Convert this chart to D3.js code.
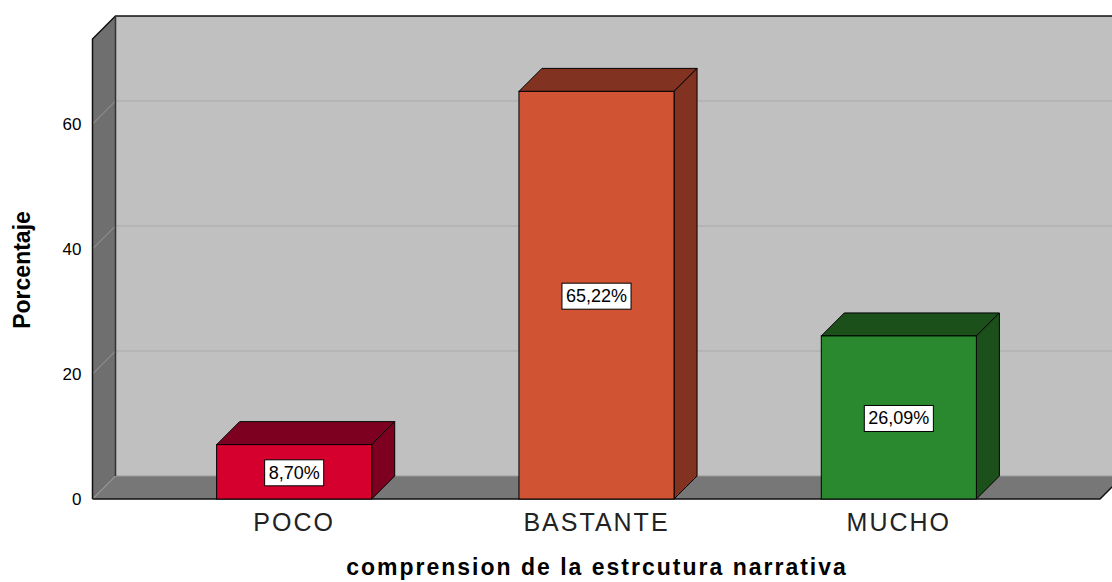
<!DOCTYPE html>
<html>
<head>
<meta charset="utf-8">
<script src="https://cdn.jsdelivr.net/npm/d3@7"></script>
<style>
  body { margin: 0; background: #fff; }
  text { font-family: Arial, "Liberation Sans", sans-serif; }
</style>
</head>
<body>
<svg id="chart" width="1112" height="582"></svg>
<script>
var categories = ["POCO", "BASTANTE", "MUCHO"];
var values = [8.70, 65.22, 26.09];
var valueLabels = ["8,70%", "65,22%", "26,09%"];
var tickValues = [0, 20, 40, 60];
var frontColors = ["#d6002e", "#d05333", "#2a892e"];
var darkColors = ["#7d0020", "#823220", "#1b501b"];

var svg = d3.select("#chart");
var depth = 23; // 3d offset, same in x and y
var left = 92.5, right = 1100;

var y = d3.scaleLinear().domain([0, 73.6]).range([499, 39]);
var x = d3.scaleBand().domain(categories).range([143, 1050])
  .paddingInner(0.487).paddingOuter(0.2435);

var y0 = y(0), yTop = y.range()[1];

function pts(a) { return a.map(function (p) { return p.join(","); }).join(" "); }

// back wall
svg.append("polygon")
  .attr("points", pts([[left + depth, yTop - depth], [right + depth, yTop - depth],
    [right + depth, y0 - depth], [left + depth, y0 - depth]]))
  .style("fill", "#c0c0c0");

// left wall
svg.append("polygon")
  .attr("points", pts([[left, y0], [left, yTop], [left + depth, yTop - depth], [left + depth, y0 - depth]]))
  .style("fill", "#6f6f6f");

// grid lines
tickValues.filter(function (d) { return d > 0; }).forEach(function (t) {
  svg.append("line")
    .attr("x1", left + depth).attr("x2", right + depth)
    .attr("y1", y(t) - depth).attr("y2", y(t) - depth)
    .style("stroke", "#a9a9a9").style("stroke-width", 1);
  svg.append("line")
    .attr("x1", left).attr("x2", left + depth)
    .attr("y1", y(t)).attr("y2", y(t) - depth)
    .style("stroke", "#9c9c9c").style("stroke-width", 1);
});

// floor
svg.append("polygon")
  .attr("points", pts([[left, y0], [right, y0], [right + depth, y0 - depth], [left + depth, y0 - depth]]))
  .style("fill", "#777777");
svg.append("line")
  .attr("x1", left + depth).attr("x2", right + depth)
  .attr("y1", y0 - depth).attr("y2", y0 - depth)
  .style("stroke", "#9a9a9a");
svg.append("line")
  .attr("x1", left).attr("x2", left + depth)
  .attr("y1", y0).attr("y2", y0 - depth)
  .style("stroke", "#9c9c9c");

// outlines
svg.append("path")
  .attr("d", "M" + left + "," + y0 + "L" + left + "," + yTop + "L" + (left + depth) + "," + (yTop - depth) +
    "L" + (right + depth) + "," + (yTop - depth))
  .style("fill", "none").style("stroke", "#111").style("stroke-width", 1.5);
svg.append("line")
  .attr("x1", left + depth).attr("x2", left + depth)
  .attr("y1", yTop - depth).attr("y2", y0 - depth)
  .style("stroke", "#333").style("stroke-width", 1.5);
svg.append("path")
  .attr("d", "M" + left + "," + y0 + "L" + right + "," + y0 + "L" + (right + depth) + "," + (y0 - depth))
  .style("fill", "none").style("stroke", "#111").style("stroke-width", 1.5);

// bars
var bars = svg.selectAll(".bar").data(values).enter().append("g").attr("class", "bar");
bars.each(function (v, i) {
  var g = d3.select(this);
  var bx = x(categories[i]), bw = x.bandwidth(), by = y(v);
  g.append("polygon")
    .attr("points", pts([[bx, by], [bx + depth, by - depth], [bx + bw + depth, by - depth], [bx + bw, by]]))
    .style("fill", darkColors[i]).style("stroke", "#000").style("stroke-width", 1);
  g.append("polygon")
    .attr("points", pts([[bx + bw, by], [bx + bw + depth, by - depth], [bx + bw + depth, y0 - depth], [bx + bw, y0]]))
    .style("fill", darkColors[i]).style("stroke", "#000").style("stroke-width", 1);
  g.append("rect")
    .attr("x", bx).attr("y", by).attr("width", bw).attr("height", y0 - by)
    .style("fill", frontColors[i]).style("stroke", "#000").style("stroke-width", 1);

  var cx = bx + bw / 2, cy = (by + y0) / 2;
  var t = g.append("text")
    .attr("x", cx).attr("y", cy + 1)
    .attr("text-anchor", "middle").attr("dominant-baseline", "central")
    .style("font-size", "18px").style("fill", "#000")
    .text(valueLabels[i]);
  var bb = t.node().getBBox();
  g.insert("rect", "text")
    .attr("x", bb.x - 4).attr("y", cy - 12).attr("width", bb.width + 8).attr("height", 26)
    .style("fill", "#fff").style("stroke", "#000").style("stroke-width", 1);
});

// y axis
var yAxis = svg.append("g")
  .attr("transform", "translate(" + left + ",0)")
  .call(d3.axisLeft(y).tickValues(tickValues).tickSize(0).tickPadding(11));
yAxis.select(".domain").remove();
yAxis.selectAll("text").style("font-size", "17px").style("font-family", "Arial, sans-serif").style("fill", "#000");

// x axis labels
var xAxis = svg.append("g")
  .attr("transform", "translate(0," + y0 + ")")
  .call(d3.axisBottom(x).tickSize(0).tickPadding(14));
xAxis.select(".domain").remove();
xAxis.selectAll("text").style("font-size", "25px").style("letter-spacing", "2px")
  .style("font-family", "Arial, sans-serif").style("fill", "#222");

// titles
svg.append("text")
  .attr("x", 597).attr("y", 575)
  .attr("text-anchor", "middle")
  .style("font-size", "23px").style("font-weight", "bold").style("letter-spacing", "2px")
  .text("comprension de la estrcutura narrativa");

svg.append("text")
  .attr("transform", "translate(30,270) rotate(-90)")
  .attr("text-anchor", "middle")
  .style("font-size", "23px").style("font-weight", "bold")
  .text("Porcentaje");
</script>
</body>
</html>
